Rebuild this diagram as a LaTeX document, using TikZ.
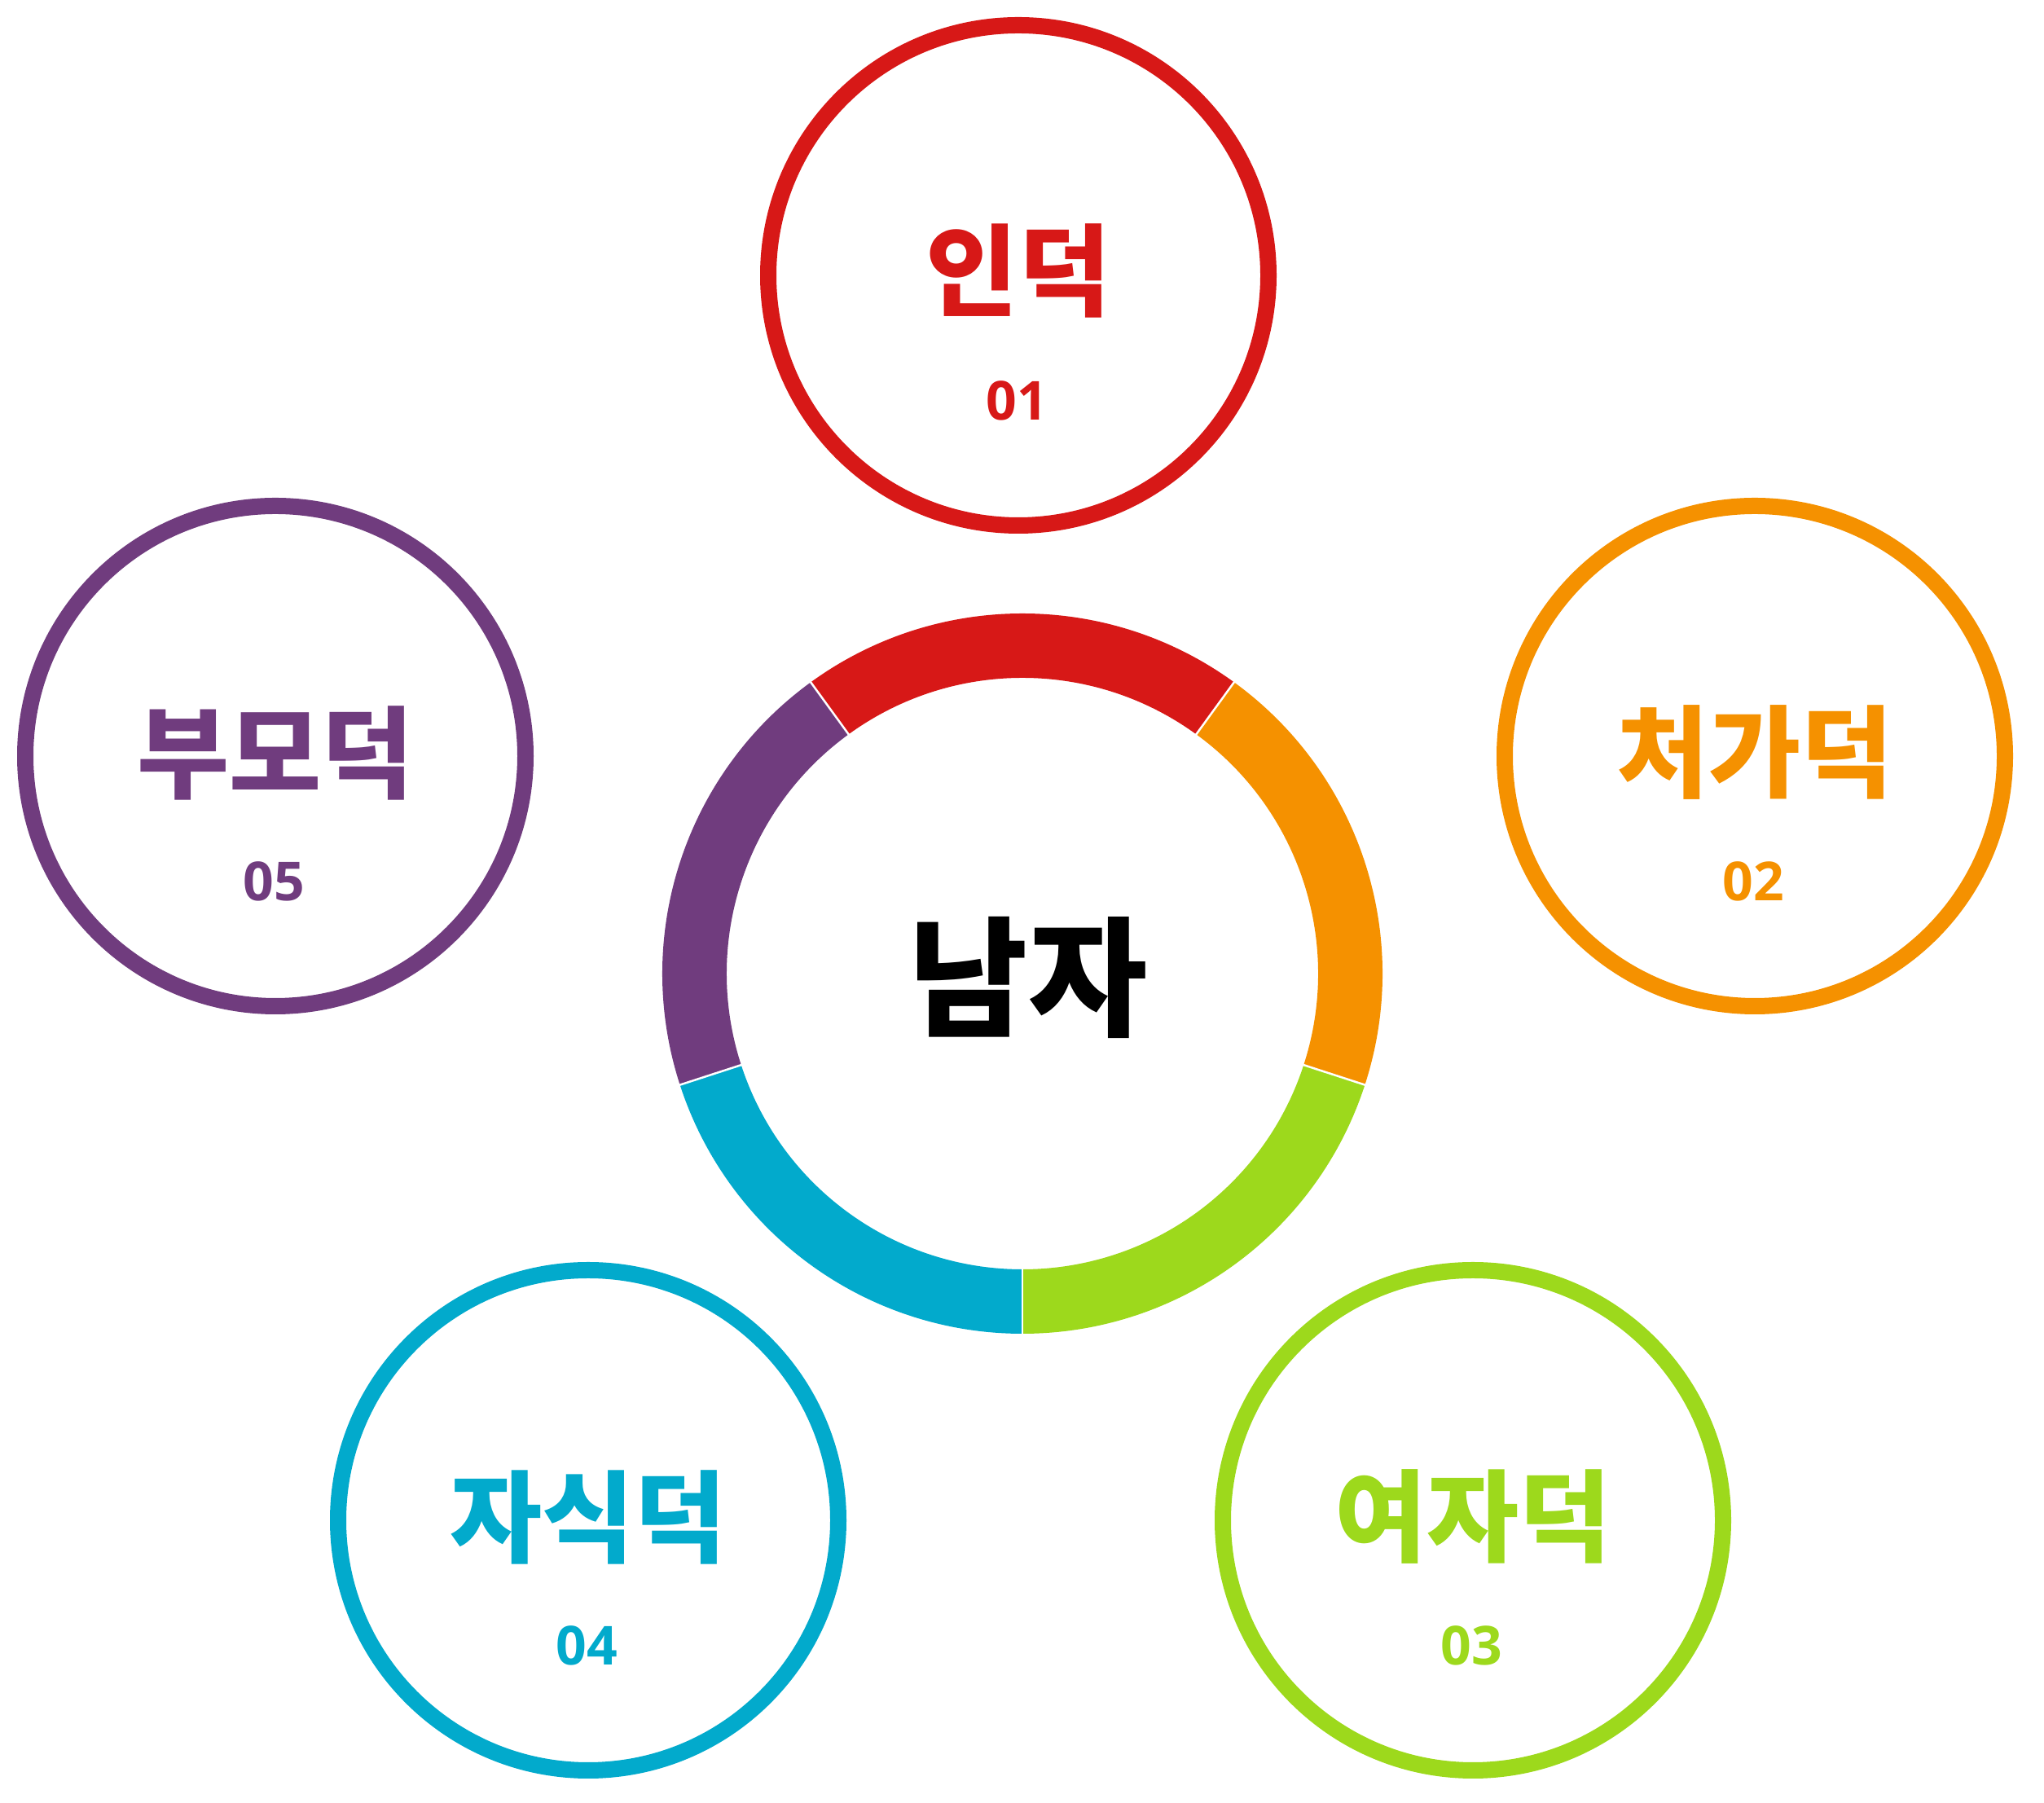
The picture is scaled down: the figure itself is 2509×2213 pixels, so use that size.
\documentclass[tikz,border=0pt]{standalone}
\usepackage{fontspec}
\setmainfont{Noto Sans CJK KR}
\newfontfamily\numfont{Open Sans}[BoldFont={* Bold}]
\usetikzlibrary{positioning}
\definecolor{cred}{HTML}{D71817}
\definecolor{corange}{HTML}{F59100}
\definecolor{cgreen}{HTML}{9DD91C}
\definecolor{ccyan}{HTML}{02AACC}
\definecolor{cpurple}{HTML}{703C7E}

\begin{document}
\begin{tikzpicture}[x=1pt, y=1pt,
    ring/.style={draw, circle, line width=20pt, minimum size=614pt, inner sep=0pt},
    title/.style={font=\fontsize{123}{123}\selectfont\bfseries, inner sep=0pt},
    num/.style={font=\numfont\bfseries\fontsize{66}{66}\selectfont, inner sep=0pt}]
  \useasboundingbox (0,0) rectangle (2509,2213);
  \coordinate (o) at (1255,1018);
  % ring around the centre
  \foreach \a/\b/\col in {54/126/cred, -18/54/corange, -90/-18/cgreen,
                          -162/-90/ccyan, 126/198/cpurple}
    \fill[\col, shift={(o)}] (\a:442) arc[start angle=\a, end angle=\b, radius=442]
      -- (\b:363) arc[start angle=\b, end angle=\a, radius=363] -- cycle;
  \foreach \a in {54,126,198,270,342}
    \draw[white, line width=2.5pt, shift={(o)}] (\a:358) -- (\a:447);
  \node[font=\fontsize{159}{159}\selectfont\bfseries, inner sep=0pt] (man)
    at ([xshift=7, yshift=-5]o) {남자};
  % outer circles
  \node[ring, cred]    (c1) at (1250,1875) {};
  \node[ring, corange] (c2) at (2154,1285) {};
  \node[ring, cgreen]  (c3) at (1808,347) {};
  \node[ring, ccyan]   (c4) at (722,347) {};
  \node[ring, cpurple] (c5) at (338,1285) {};
  \node[title, text=cred]    (t1) at ([yshift=6]c1.center) {인덕};
  \node[title, text=corange] (t2) at ([yshift=4]c2.center) {처가덕};
  \node[title, text=cgreen]  (t3) at ([yshift=4]c3.center) {여자덕};
  \node[title, text=ccyan]   (t4) at ([yshift=4]c4.center) {자식덕};
  \node[title, text=cpurple] (t5) at ([yshift=4]c5.center) {부모덕};
  \node[num, text=cred]    (n1) at ([xshift=-2, yshift=-154]c1.center) {01};
  \node[num, text=corange] (n2) at ([xshift=-2, yshift=-154]c2.center) {02};
  \node[num, text=cgreen]  (n3) at ([xshift=-2, yshift=-154]c3.center) {03};
  \node[num, text=ccyan]   (n4) at ([xshift=-2, yshift=-154]c4.center) {04};
  \node[num, text=cpurple] (n5) at ([xshift=-2, yshift=-154]c5.center) {05};
\end{tikzpicture}
\end{document}
